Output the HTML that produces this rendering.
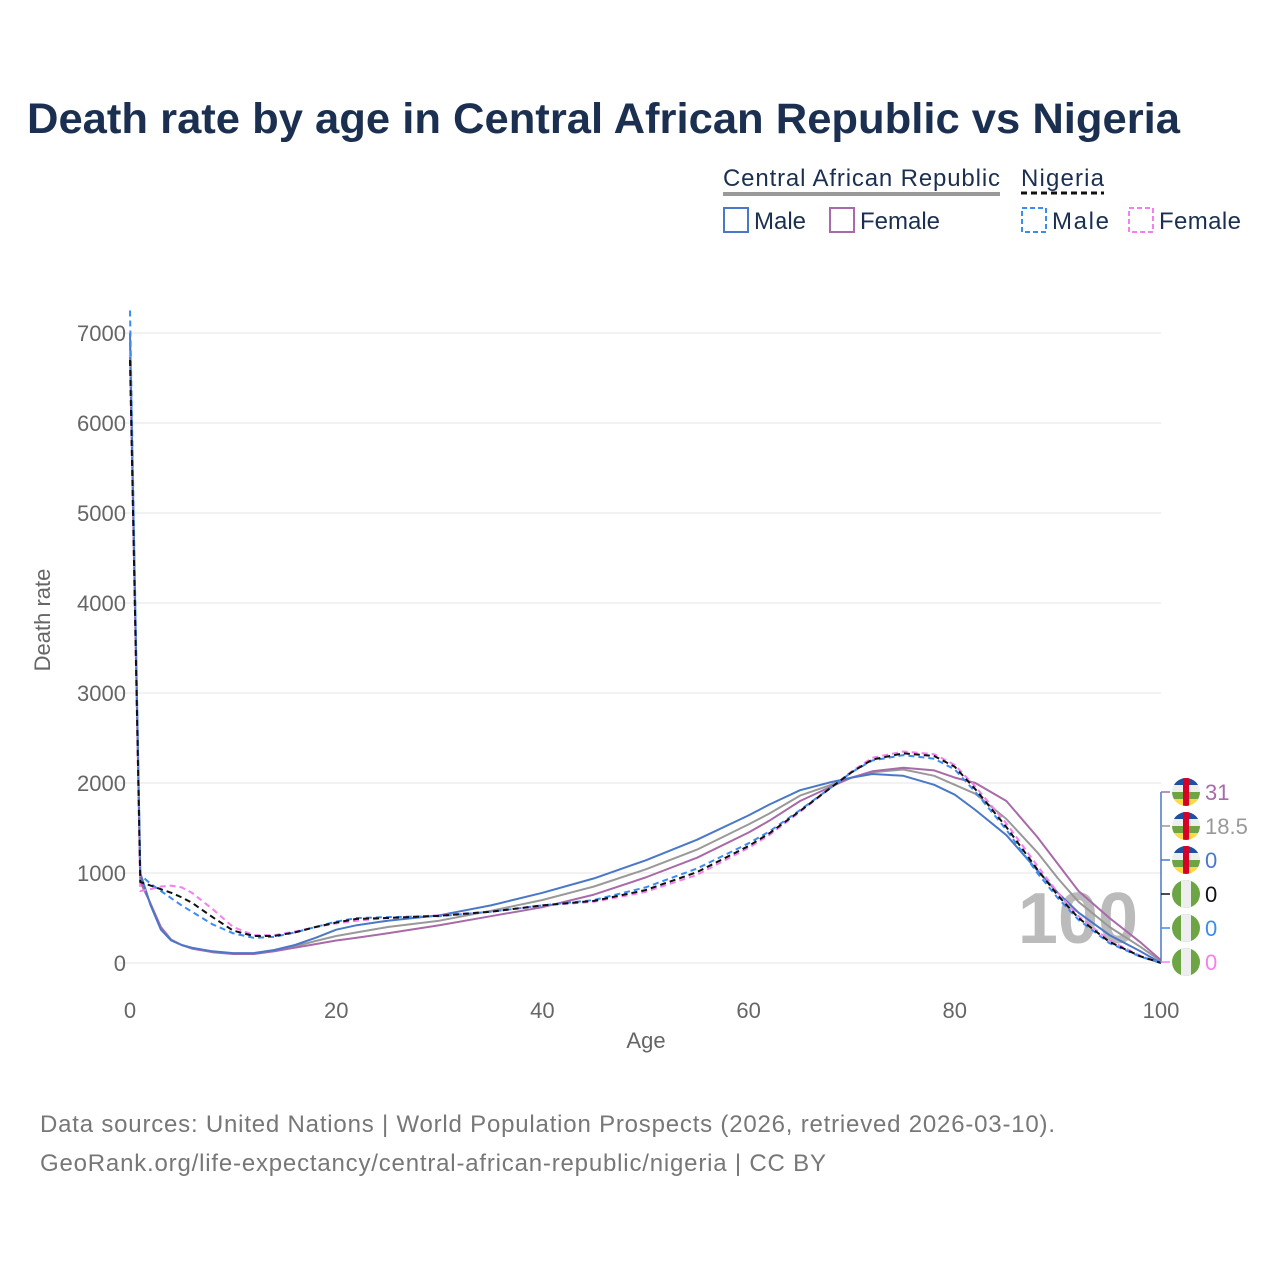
<!DOCTYPE html>
<html><head><meta charset="utf-8"><style>
body{margin:0;background:#fff;font-family:"Liberation Sans",sans-serif;}
svg text{font-family:"Liberation Sans",sans-serif;}
</style></head><body>
<svg id="chart" width="1280" height="1280" xmlns="http://www.w3.org/2000/svg">
<text x="27" y="133" font-size="43" font-weight="bold" fill="#1b3050" textLength="1153" lengthAdjust="spacingAndGlyphs">Death rate by age in Central African Republic vs Nigeria</text>
<g font-size="24" fill="#1b3050">
<text x="723" y="186" fill="#1b3050" textLength="277">Central African Republic</text>
<line x1="723" y1="194" x2="1000" y2="194" stroke="#999" stroke-width="4"/>
<text x="1021" y="186" fill="#1b3050" textLength="83">Nigeria</text>
<line x1="1021" y1="193" x2="1104" y2="193" stroke="#111" stroke-width="3" stroke-dasharray="6,4"/>
<rect x="724" y="208" width="24" height="24" fill="none" stroke="#4a78c8" stroke-width="2"/>
<text x="754" y="229">Male</text>
<rect x="830" y="208" width="24" height="24" fill="none" stroke="#a86aa8" stroke-width="2"/>
<text x="860" y="229">Female</text>
<rect x="1022" y="208" width="24" height="24" fill="none" stroke="#3b8cf0" stroke-width="2" stroke-dasharray="5,3"/>
<text x="1052" y="229" textLength="57">Male</text>
<rect x="1129" y="208" width="24" height="24" fill="none" stroke="#f57ef0" stroke-width="2" stroke-dasharray="5,3"/>
<text x="1159" y="229" textLength="82">Female</text>
</g>
<g id="grid"></g>
<text x="1078" y="943" font-size="72" font-weight="bold" fill="#bbb" text-anchor="middle">100</text>
<g id="series"></g>
<g id="endlabels"></g>
<text transform="translate(50,620) rotate(-90)" font-size="22" fill="#666" text-anchor="middle">Death rate</text>
<text x="646" y="1048" font-size="22" fill="#666" text-anchor="middle">Age</text>
<text x="40" y="1132" font-size="24" fill="#777" textLength="1015">Data sources: United Nations | World Population Prospects (2026, retrieved 2026-03-10).</text>
<text x="40" y="1171" font-size="24" fill="#777" textLength="786">GeoRank.org/life-expectancy/central-african-republic/nigeria | CC BY</text>
</svg>
<script>
const ages=[0,1,2,3,4,5,6,8,10,12,14,16,18,20,22,25,30,35,40,45,50,55,60,62,65,68,70,72,75,78,80,82,85,88,90,92,95,98,100];
const carMale=[7000,1000,640,370,250,200,170,130,110,110,145,200,280,370,420,470,530,640,780,940,1140,1370,1640,1760,1920,2010,2060,2100,2080,1980,1870,1700,1420,1030,780,560,310,130,0];
const carFemale=[6800,900,660,400,260,200,160,120,100,100,130,170,210,250,280,330,420,520,620,760,950,1170,1450,1580,1800,1960,2060,2130,2170,2140,2060,2000,1800,1400,1100,800,500,230,31];
const carTotal=[6900,950,650,385,255,200,165,125,105,105,138,185,245,300,340,400,470,580,700,850,1040,1260,1540,1660,1860,1980,2060,2120,2150,2080,1980,1880,1600,1230,940,680,400,180,18.5];
const ngMale=[7250,980,880,800,720,640,570,430,330,280,290,340,400,460,500,510,520,570,640,700,840,1050,1330,1460,1700,1950,2120,2250,2310,2270,2150,1900,1480,1000,720,480,220,70,0];
const ngFemale=[6800,800,820,850,860,840,780,600,400,310,310,350,400,440,470,500,530,570,640,680,790,980,1280,1420,1680,1950,2130,2280,2350,2320,2200,1960,1550,1080,780,520,250,80,0];
const ngTotal=[6700,900,860,820,780,730,670,510,360,300,300,340,400,450,490,500,525,570,640,690,810,1010,1300,1440,1690,1950,2120,2260,2330,2300,2180,1930,1510,1040,750,500,235,75,0];
const yTicks=[0,1000,2000,3000,4000,5000,6000,7000];
const xTicks=[0,20,40,60,80,100];
const endValues=["31","18.5","0","0","0","0"];
const NS="http://www.w3.org/2000/svg";
const X=a=>130+a*10.31;
const Y=v=>963-v*0.09;
function mk(t,attrs,parent){const e=document.createElementNS(NS,t);for(const k in attrs)e.setAttribute(k,attrs[k]);parent.appendChild(e);return e;}
const grid=document.getElementById('grid');
yTicks.forEach(v=>{
 const l=mk('line',{x1:118,x2:1161,y1:Y(v),y2:Y(v),stroke:'#e6e6e6','stroke-width':1},grid);
 
 
 const t=mk('text',{x:126,y:Y(v)+8,'font-size':22,fill:'#666','text-anchor':'end'},grid);
 t.textContent=v;
 
 
});
xTicks.forEach(a=>{
 const t=mk('text',{x:X(a),y:1018,'font-size':22,fill:'#666','text-anchor':'middle'},grid);
 t.textContent=a;
 
 
});
const series=[
 {d:carTotal,c:'#999',dash:'',n:'car-total-line'},
 {d:carFemale,c:'#a86aa8',dash:'',n:'car-female-line'},
 {d:carMale,c:'#4a78c8',dash:'',n:'car-male-line'},
 {d:ngFemale,c:'#f57ef0',dash:'6,4',n:'ng-female-line'},
 {d:ngMale,c:'#3b8cf0',dash:'6,4',n:'ng-male-line'},
 {d:ngTotal,c:'#111',dash:'6,4',n:'ng-total-line'}];
const sg=document.getElementById('series');
series.forEach(s=>{
 const pts=ages.map((a,i)=>X(a).toFixed(1)+','+Y(s.d[i]).toFixed(1)).join(' ');
 const p=mk('polyline',{points:pts,fill:'none',stroke:s.c,'stroke-width':2,'stroke-dasharray':s.dash,'stroke-linejoin':'round'},sg);
 
 
});
const eg=document.getElementById('endlabels');
const labelCols=['#a86aa8','#999','#4a78c8','#111','#3b8cf0','#f57ef0'];
const isCar=[1,1,1,0,0,0];
mk('line',{x1:1161,y1:792,x2:1161,y2:963,stroke:'#4a78c8','stroke-width':1.5},eg);
for(let i=0;i<6;i++){
 const y=792+i*34;
 mk('line',{x1:1161,y1:y,x2:1170,y2:y,stroke:labelCols[i],'stroke-width':1.5},eg);
 const g=mk('g',{},eg);
 
 
 const cx=1186;
 const cp='cp'+i;
 const clip=mk('clipPath',{id:cp},g);mk('circle',{cx:cx,cy:y,r:14},clip);
 const f=mk('g',{'clip-path':'url(#'+cp+')'},g);
 if(isCar[i]){
  mk('rect',{x:cx-14,y:y-14,width:28,height:7,fill:'#1e50a0'},f);
  mk('rect',{x:cx-14,y:y-7,width:28,height:7,fill:'#eee'},f);
  mk('rect',{x:cx-14,y:y,width:28,height:7,fill:'#6da544'},f);
  mk('rect',{x:cx-14,y:y+7,width:28,height:7,fill:'#ffda44'},f);
  mk('rect',{x:cx-3,y:y-14,width:6,height:28,fill:'#d80027'},f);
 } else {
  mk('rect',{x:cx-14,y:y-14,width:28,height:28,fill:'#6da544'},f);
  mk('rect',{x:cx-5,y:y-14,width:10,height:28,fill:'#eee'},f);
 }
 const t=mk('text',{x:1205,y:y+8,'font-size':22,fill:labelCols[i]},eg);
 t.textContent=endValues[i];
 
 
}
</script>
</body></html>
